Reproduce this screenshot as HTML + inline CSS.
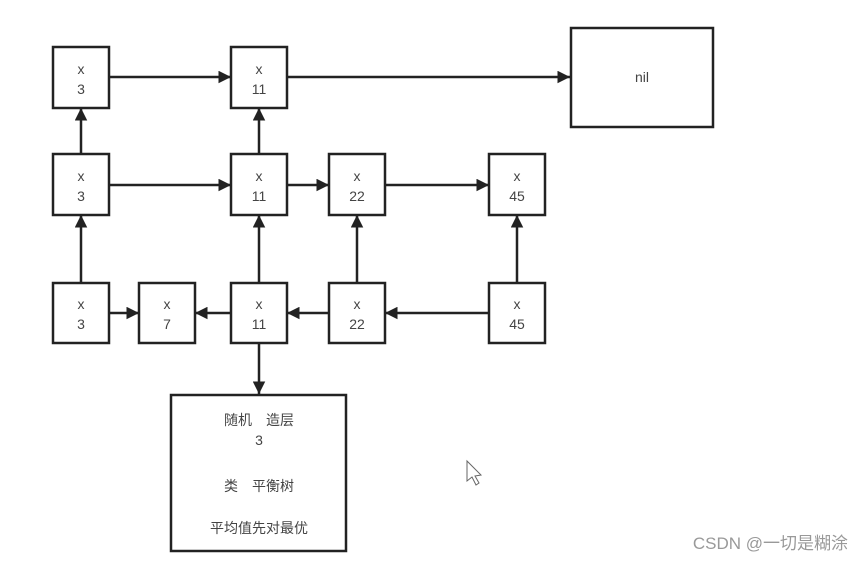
<!DOCTYPE html>
<html><head><style>body{margin:0;background:#fff}svg{display:block}</style></head><body>
<svg width="865" height="562" viewBox="0 0 865 562" xmlns="http://www.w3.org/2000/svg">
<defs><marker id="a" viewBox="0 0 10 10" refX="10" refY="5" markerWidth="5" markerHeight="5" orient="auto"><path d="M0,0L10,5L0,10z" fill="#222"/></marker></defs>
<g stroke="#222" stroke-width="2.5" fill="none" marker-end="url(#a)">
<line x1="109" y1="77" x2="231" y2="77"/>
<line x1="287" y1="77" x2="570" y2="77"/>
<line x1="109" y1="185" x2="231" y2="185"/>
<line x1="287" y1="185" x2="329" y2="185"/>
<line x1="385" y1="185" x2="489" y2="185"/>
<line x1="81" y1="154" x2="81" y2="108"/>
<line x1="259" y1="154" x2="259" y2="108"/>
<line x1="81" y1="283" x2="81" y2="215"/>
<line x1="259" y1="283" x2="259" y2="215"/>
<line x1="357" y1="283" x2="357" y2="215"/>
<line x1="517" y1="283" x2="517" y2="215"/>
<line x1="109" y1="313" x2="139" y2="313"/>
<line x1="231" y1="313" x2="195" y2="313"/>
<line x1="329" y1="313" x2="287" y2="313"/>
<line x1="489" y1="313" x2="385" y2="313"/>
<line x1="259" y1="343" x2="259" y2="394"/>
</g>
<g stroke="#222" stroke-width="2.5" fill="#fff">
<rect x="53" y="47" width="56" height="61"/><rect x="231" y="47" width="56" height="61"/>
<rect x="53" y="154" width="56" height="61"/><rect x="231" y="154" width="56" height="61"/>
<rect x="329" y="154" width="56" height="61"/><rect x="489" y="154" width="56" height="61"/>
<rect x="53" y="283" width="56" height="60"/><rect x="139" y="283" width="56" height="60"/>
<rect x="231" y="283" width="56" height="60"/><rect x="329" y="283" width="56" height="60"/>
<rect x="489" y="283" width="56" height="60"/>
<rect x="571" y="28" width="142" height="99"/>
<rect x="171" y="395" width="175" height="156"/>
</g>
<g font-family="Liberation Sans, Noto Sans CJK SC, sans-serif" font-size="14" fill="#444" text-anchor="middle">
<text x="81" y="74">x</text><text x="81" y="94">3</text>
<text x="259" y="74">x</text><text x="259" y="94">11</text>
<text x="81" y="181">x</text><text x="81" y="201">3</text>
<text x="259" y="181">x</text><text x="259" y="201">11</text>
<text x="357" y="181">x</text><text x="357" y="201">22</text>
<text x="517" y="181">x</text><text x="517" y="201">45</text>
<text x="81" y="309">x</text><text x="81" y="329">3</text>
<text x="167" y="309">x</text><text x="167" y="329">7</text>
<text x="259" y="309">x</text><text x="259" y="329">11</text>
<text x="357" y="309">x</text><text x="357" y="329">22</text>
<text x="517" y="309">x</text><text x="517" y="329">45</text>
<text x="642" y="82">nil</text>
<text x="259" y="425">随机　造层</text><text x="259" y="445">3</text>
<text x="259" y="491">类　平衡树</text>
<text x="259" y="533">平均值先对最优</text>
</g>
<text x="848" y="549" text-anchor="end" font-family="Liberation Sans, Noto Sans CJK SC, sans-serif" font-size="17" fill="#999">CSDN @一切是糊涂</text>
<path d="M467,461 L467,481 L472,477 L476,485 L479,483 L475,476 L481,475 Z" fill="#fff" stroke="#666" stroke-width="1"/>
</svg>
</body></html>
